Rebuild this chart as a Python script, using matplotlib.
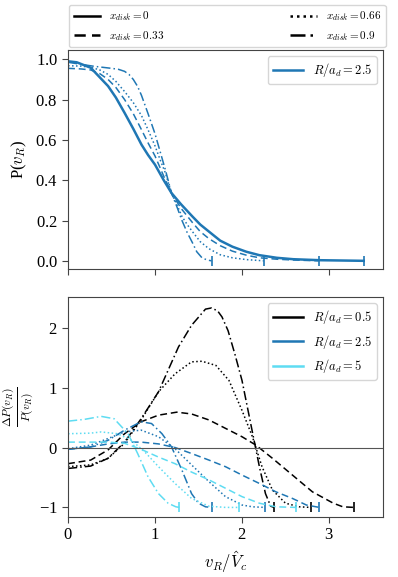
import matplotlib
matplotlib.use("Agg")
import matplotlib.pyplot as plt
from matplotlib.lines import Line2D

plt.rcParams['font.family'] = ['Liberation Serif', 'DejaVu Serif']
plt.rcParams['mathtext.fontset'] = 'cm'
plt.rcParams['axes.formatter.use_mathtext'] = True

# top panel: P(v_R) for R/a_d = 2.5, one curve per x_disk
top_v = {
    '0':    [0, 0.1, 0.26, 0.46, 0.55, 0.65, 0.75, 0.845, 0.92, 1.0, 1.1, 1.19, 1.3, 1.43, 1.52, 1.62,
             1.75, 1.89, 2.05, 2.2, 2.4, 2.59, 2.9, 3.4],
    '0.33': [0, 0.15, 0.26, 0.36, 0.46, 0.55, 0.65, 0.75, 0.845, 0.92, 1.0, 1.1, 1.19, 1.3, 1.43, 1.52,
             1.62, 1.75, 1.89, 2.05, 2.2, 2.4, 2.59, 2.88],
    '0.66': [0, 0.15, 0.26, 0.36, 0.46, 0.55, 0.65, 0.75, 0.845, 0.92, 1.0, 1.06, 1.12, 1.19, 1.25, 1.31,
             1.37, 1.43, 1.52, 1.62, 1.75, 1.89, 2.05, 2.25],
    '0.9':  [0, 0.15, 0.3, 0.4, 0.5, 0.58, 0.65, 0.7, 0.75, 0.8, 0.845, 0.92, 1.0, 1.06, 1.12, 1.19,
             1.25, 1.31, 1.37, 1.43, 1.48, 1.54, 1.6, 1.65],
}
top_p = {
    '0':    [0.99, 0.985, 0.958, 0.867, 0.81, 0.734, 0.655, 0.576, 0.525, 0.477, 0.40, 0.336, 0.28, 0.22,
             0.18, 0.145, 0.10, 0.07, 0.045, 0.028, 0.015, 0.008, 0.003, 0.0],
    '0.33': [0.955, 0.952, 0.947, 0.93, 0.90, 0.86, 0.80, 0.73, 0.65, 0.585, 0.52, 0.42, 0.335, 0.26,
             0.19, 0.145, 0.11, 0.075, 0.048, 0.028, 0.015, 0.008, 0.004, 0.0],
    '0.66': [0.968, 0.966, 0.96, 0.948, 0.925, 0.89, 0.84, 0.785, 0.72, 0.65, 0.57, 0.50, 0.435, 0.335,
             0.28, 0.22, 0.18, 0.145, 0.095, 0.06, 0.03, 0.015, 0.006, 0.0],
    '0.9':  [0.985, 0.975, 0.965, 0.96, 0.955, 0.95, 0.94, 0.925, 0.90, 0.865, 0.82, 0.73, 0.63, 0.54,
             0.45, 0.335, 0.27, 0.20, 0.14, 0.09, 0.045, 0.015, 0.004, 0.0],
}

# bottom panel: relative difference, per radius and x_disk
bot_v = {
    ('0.5', '0.33'): [0, 0.26, 0.46, 0.65, 0.84, 1.04, 1.25, 1.42, 1.62, 1.81, 2.0, 2.16, 2.35, 2.58, 2.81, 3.05, 3.16, 3.29],
    ('0.5', '0.66'): [0, 0.26, 0.46, 0.65, 0.84, 1.04, 1.23, 1.42, 1.54, 1.70, 1.85, 2.0, 2.12, 2.23, 2.35, 2.5, 2.66, 2.79],
    ('0.5', '0.9'):  [0, 0.26, 0.46, 0.65, 0.84, 1.04, 1.27, 1.42, 1.58, 1.65, 1.72, 1.77, 1.84, 1.92, 2.0, 2.1, 2.2, 2.27, 2.33, 2.37],
    ('2.5', '0.33'): [0, 0.26, 0.46, 0.65, 0.84, 1.04, 1.23, 1.42, 1.62, 1.81, 2.0, 2.2, 2.39, 2.58, 2.74, 2.89],
    ('2.5', '0.66'): [0, 0.26, 0.46, 0.65, 0.84, 1.04, 1.23, 1.42, 1.62, 1.81, 2.0, 2.12, 2.26],
    ('2.5', '0.9'):  [0, 0.26, 0.46, 0.65, 0.84, 0.96, 1.08, 1.19, 1.31, 1.42, 1.5, 1.58, 1.65],
    ('5', '0.33'):   [0, 0.26, 0.46, 0.65, 0.84, 1.04, 1.23, 1.42, 1.62, 1.81, 2.0, 2.2, 2.39, 2.62],
    ('5', '0.66'):   [0, 0.26, 0.38, 0.57, 0.73, 0.88, 1.04, 1.23, 1.42, 1.62, 1.81, 1.97],
    ('5', '0.9'):    [0, 0.19, 0.38, 0.53, 0.69, 0.8, 0.92, 1.04, 1.15, 1.24, 1.28],
}
bot_d = {
    ('0.5', '0.33'): [-0.27, -0.21, -0.04, 0.23, 0.43, 0.54, 0.59, 0.56, 0.46, 0.32, 0.18, 0.04, -0.18, -0.46, -0.74, -0.93, -0.99, -1.0],
    ('0.5', '0.66'): [-0.32, -0.29, -0.18, 0.07, 0.46, 0.93, 1.23, 1.43, 1.44, 1.37, 1.12, 0.62, 0.18, -0.32, -0.71, -0.93, -0.99, -1.0],
    ('0.5', '0.9'):  [-0.35, -0.31, -0.18, 0.09, 0.48, 0.93, 1.68, 2.04, 2.31, 2.33, 2.28, 2.18, 1.95, 1.55, 1.12, 0.4, -0.32, -0.77, -0.98, -1.0],
    ('2.5', '0.33'): [-0.03, 0.01, 0.06, 0.09, 0.09, 0.06, 0.0, -0.1, -0.21, -0.32, -0.46, -0.6, -0.74, -0.85, -0.96, -1.0],
    ('2.5', '0.66'): [-0.02, 0.04, 0.15, 0.26, 0.29, 0.18, -0.02, -0.29, -0.57, -0.82, -0.96, -0.99, -1.0],
    ('2.5', '0.9'):  [-0.03, 0.01, 0.12, 0.29, 0.43, 0.40, 0.23, 0.01, -0.38, -0.77, -0.93, -0.99, -1.0],
    ('5', '0.33'):   [0.09, 0.09, 0.09, 0.07, -0.03, -0.16, -0.27, -0.41, -0.54, -0.68, -0.82, -0.93, -0.99, -1.0],
    ('5', '0.66'):   [0.23, 0.24, 0.26, 0.23, 0.12, -0.07, -0.32, -0.6, -0.85, -0.98, -1.0, -1.0],
    ('5', '0.9'):    [0.44, 0.47, 0.52, 0.48, 0.23, -0.1, -0.49, -0.77, -0.93, -0.99, -1.0],
}

xdisks = ['0', '0.33', '0.66', '0.9']
radii = ['0.5', '2.5', '5']
styles = {'0': '-', '0.33': (0, (4.5, 2.5)), '0.66': (0, (1, 1.6)), '0.9': (0, (6, 2, 1, 2))}
colors = {'0.5': 'black', '2.5': '#1f77b4', '5': '#5edcf2'}
blue = '#1f77b4'

fig = plt.figure(figsize=(3.98, 5.77), dpi=100)
ax1 = fig.add_axes([0.171, 0.534, 0.791, 0.379])
ax2 = fig.add_axes([0.171, 0.104, 0.791, 0.381])

for xd in xdisks:
    lw = 1.8 if xd == '0' else 1.1
    lab = r'$R/a_d = 2.5$' if xd == '0' else None
    ax1.plot(top_v[xd], top_p[xd], color=blue, ls=styles[xd], lw=lw, label=lab)
    ax1.plot(top_v[xd][-1], top_p[xd][-1], marker='|', ms=7, mew=1.2, color=blue)

ax1.set_xlim(0, 3.62)
ax1.set_ylim(-0.04, 1.045)
ax1.set_xticks([0, 1, 2, 3])
ax1.set_xticklabels([])
ax1.set_yticks([0, 0.2, 0.4, 0.6, 0.8, 1.0])
ax1.set_ylabel(r'P($v_R$)', fontsize=12)
ax1.legend(loc='upper right', fontsize=9, handlelength=2.4)

for r in radii:
    for xd in xdisks[1:]:
        ax2.plot(bot_v[(r, xd)], bot_d[(r, xd)], color=colors[r], ls=styles[xd], lw=1.1)
        ax2.plot(bot_v[(r, xd)][-1], bot_d[(r, xd)][-1], marker='|', ms=7, mew=1.2, color=colors[r])
ax2.axhline(0, color='#555555', lw=0.8)
ax2.set_xlim(0, 3.62)
ax2.set_ylim(-1.16, 2.51)
ax2.set_xticks([0, 1, 2, 3])
ax2.set_yticks([-1, 0, 1, 2])
ax2.set_xlabel(r'$v_R/\hat{V}_c$', fontsize=12)
ax2.set_ylabel(r'$\frac{\Delta P(v_R)}{P(v_R)}$', fontsize=12, labelpad=2)
rhandles = [Line2D([], [], color=colors[r], lw=1.8) for r in radii]
ax2.legend(rhandles, [r'$R/a_d = %s$' % r for r in radii], loc='upper right', fontsize=9, handlelength=2.4)

for ax in (ax1, ax2):
    ax.tick_params(labelsize=12, color='#444444', length=4)
    for s in ax.spines.values():
        s.set_color('#444444')

xhandles = [Line2D([], [], color='black', ls=styles[xd], lw=1.8) for xd in xdisks]
fig.legend(xhandles, [r'$x_{disk} = %s$' % xd for xd in xdisks], ncol=2, mode='expand',
           loc='lower left', bbox_to_anchor=(0.174, 0.918, 0.795, 0.068), fontsize=8,
           handlelength=2.4, borderaxespad=0)

fig.savefig('out.png', dpi=100)
